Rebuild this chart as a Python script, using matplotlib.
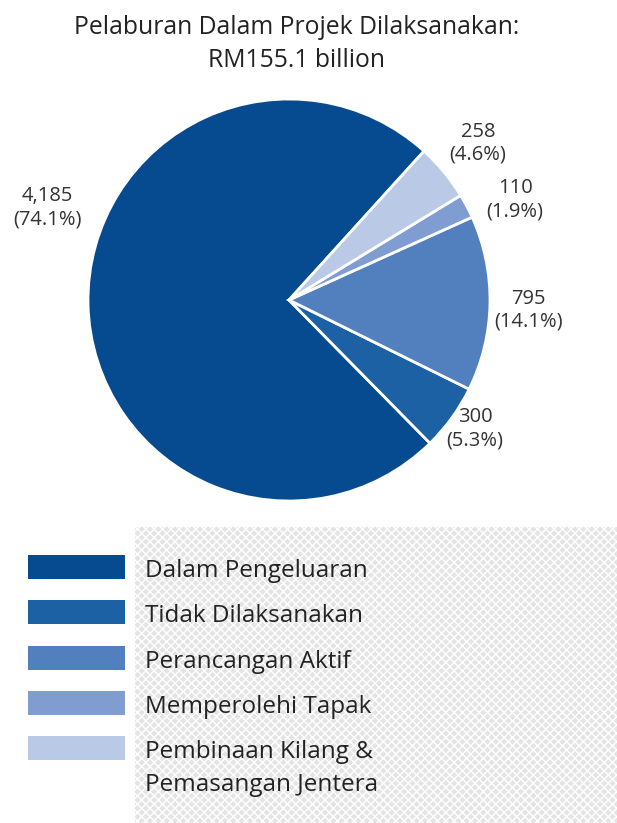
import matplotlib
matplotlib.use("Agg")
import matplotlib.pyplot as plt
from matplotlib.patches import Rectangle

plt.rcParams['font.family'] = ['Open Sans', 'DejaVu Sans']

# data
categories = ["Dalam Pengeluaran", "Tidak Dilaksanakan", "Perancangan Aktif",
              "Memperolehi Tapak", "Pembinaan Kilang &\nPemasangan Jentera"]
projects = [4185, 300, 795, 110, 258]
percent = [74.1, 5.3, 14.1, 1.9, 4.6]
colors = ["#064a8f", "#1d61a5", "#5280bf", "#7f9dd1", "#b9c9e6"]
title = "Pelaburan Dalam Projek Dilaksanakan:\nRM155.1 billion"

W, H = 617, 823
fig = plt.figure(figsize=(W / 100, H / 100), dpi=100)

# background layer in pixel coordinates
bg = fig.add_axes([0, 0, 1, 1], zorder=0)
bg.set_xlim(0, W)
bg.set_ylim(H, 0)
bg.axis("off")

# grey textured panel behind legend text
bg.add_patch(Rectangle((135, 527), W - 135, H - 527, facecolor="#e4e4e4",
                       edgecolor="white", hatch="xxxx", linewidth=0))

# pie
cx, cy, r = 289, 300, 201
ax = fig.add_axes([(cx - r) / W, (H - cy - r) / H, 2 * r / W, 2 * r / H], zorder=1)
labels = [f"{v:,}\n({p}%)" for v, p in zip(projects, percent)]
wedges, texts = ax.pie(projects, colors=colors, startangle=47.8, radius=1,
                       labels=labels, labeldistance=1.2,
                       wedgeprops=dict(edgecolor="white", linewidth=2),
                       textprops=dict(fontsize=14.5, color="#333333",
                                      ha="center", va="center", linespacing=1.2))
ax.set_xlim(-1, 1)
ax.set_ylim(-1, 1)
ax.set_aspect("equal")
# hand placed labels (data units of the pie axes)
label_xy = [(-1.20, 0.46), (0.925, -0.64), (1.19, -0.05), (1.125, 0.50), (0.94, 0.78)]
for t, xy in zip(texts, label_xy):
    t.set_position(xy)

# title, one line at a time
for j, line in enumerate(title.split("\n")):
    bg.text(297, 34 + j * 33, line, ha="center", va="baseline", fontsize=17.8,
            color="#222222")

# legend
for i, (name, c) in enumerate(zip(categories, colors)):
    y = 567 + i * 45.3
    bg.add_patch(Rectangle((28, y - 12), 97, 24, facecolor=c, edgecolor="none"))
    for j, line in enumerate(name.split("\n")):
        bg.text(145, y + 10 + j * 33, line, ha="left", va="baseline",
                fontsize=17.5, color="#222222")

fig.savefig("out.png", dpi=100)
